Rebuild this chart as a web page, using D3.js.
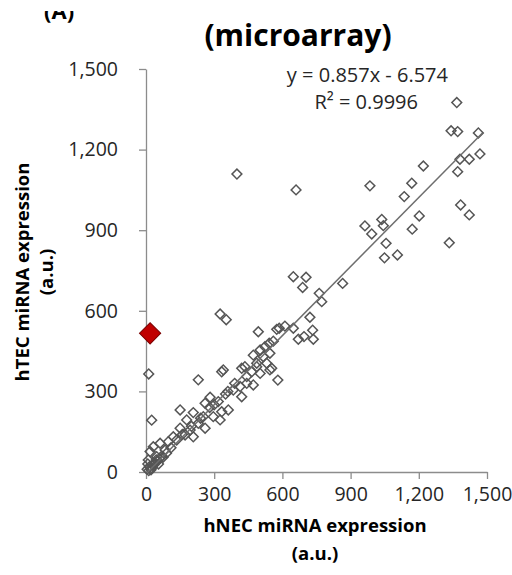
<html>
<style>
body { margin: 0; background: #fff; }
text { font-family: "Open Sans", sans-serif; }
</style>
<body>
<script src="https://d3js.org/d3.v7.min.js"></script>
<script>

var width = 512,
    height = 575;

// hNEC (x) and hTEC (y) expression, one pair per miRNA
var hnec = [1367,1342,1371,1462,1381,1422,1469,1371,1220,1169,1136,1384,1422,1202,1171,1334,
  1037,1044,1056,1106,1049,985,963,993,400,660,648,704,689,865,762,773,721,733,736,648,670,
  695,611,586,575,494,560,542,523,502,472,516,545,487,531,435,465,502,545,443,580,472,326,353,
  340,421,487,553,230,333,12,25,150,282,260,318,208,333,362,384,414,421,443,179,230,252,296,
  194,150,120,98,62,32,84,135,172,208,260,326,18,47,10,5,15,22,30,40,8,12,25,35,50,60,70,55,
  45,360,390,350,300,280,240,200,160,110,90,75];
var htec = [1375,1270,1267,1262,1164,1164,1184,1118,1139,1075,1025,994,957,953,904,853,
  940,917,851,808,797,1065,916,886,1109,1050,727,725,687,702,665,634,576,528,494,535,494,
  504,543,535,531,522,487,479,466,454,435,429,442,405,405,392,373,367,380,355,342,324,588,567,
  380,386,392,386,343,373,365,193,231,278,256,262,221,224,231,305,318,280,330,194,181,206,206,
  156,163,131,113,107,94,82,119,138,131,163,194,76,57,45,10,20,8,25,35,30,5,15,28,40,50,60,30,
  45,300,330,290,250,240,200,170,140,90,70,55];

// highlighted miRNA
var highlight = [18, 516];

var ticks = [0, 300, 600, 900, 1200, 1500];
var slope = 0.857, intercept = -6.574;
var fitRange = [8, 1480];
var eqLines = ["y = 0.857x - 6.574", "R² = 0.9996"];

var x = d3.scaleLinear().domain([0, 1500]).range([146, 487]);
var y = d3.scaleLinear().domain([0, 1500]).range([472, 69]);

var svg = d3.select("body").append("svg")
    .attr("width", width)
    .attr("height", height);

var fmt = d3.format(",d");

// axes
var gx = svg.append("g")
    .attr("transform", "translate(0," + y(0) + ")")
    .call(d3.axisBottom(x).tickValues(ticks).tickFormat(fmt).tickSize(7).tickPadding(8).tickSizeOuter(0));
var gy = svg.append("g")
    .attr("transform", "translate(" + x(0) + ",0)")
    .call(d3.axisLeft(y).tickValues(ticks).tickFormat(fmt).tickSize(7).tickPadding(21).tickSizeOuter(0));

[gx, gy].forEach(function(g) {
  g.select(".domain").attr("stroke", "#8c8c8c").attr("stroke-width", 1.3);
  g.selectAll(".tick line").attr("stroke", "#8c8c8c").attr("stroke-width", 1.3);
  g.selectAll(".tick text")
    .attr("fill", "#262626")
    .style("font-family", "'Open Sans', sans-serif")
    .style("font-size", "19.5px");
});

// points
var diamond = d3.symbol().type(d3.symbolSquare).size(48);
svg.append("g").selectAll("path")
    .data(d3.range(hnec.length))
    .enter().append("path")
    .attr("d", diamond)
    .attr("transform", function(i) { return "translate(" + x(hnec[i]) + "," + y(htec[i]) + ") rotate(45)"; })
    .attr("fill", "none")
    .attr("stroke", "#555")
    .attr("stroke-width", 1.5);

// trend line
svg.append("line")
    .attr("x1", x(fitRange[0])).attr("y1", y(slope * fitRange[0] + intercept))
    .attr("x2", x(fitRange[1])).attr("y2", y(slope * fitRange[1] + intercept))
    .attr("stroke", "#6e6e6e")
    .attr("stroke-width", 1.5);

svg.append("path")
    .attr("d", d3.symbol().type(d3.symbolSquare).size(225))
    .attr("transform", "translate(" + x(highlight[0]) + "," + y(highlight[1]) + ") rotate(45)")
    .attr("fill", "#c00000")
    .attr("stroke", "#7a0000")
    .attr("stroke-width", 1);

// equation
svg.append("text").attr("x", 448).attr("y", 82).attr("text-anchor", "end")
    .style("font-size", "20px").attr("fill", "#262626").text(eqLines[0]);
svg.append("text").attr("x", 418).attr("y", 109).attr("text-anchor", "end")
    .style("font-size", "20px").attr("fill", "#262626").text(eqLines[1]);

// title
svg.append("text").attr("x", 298).attr("y", 46).attr("text-anchor", "middle")
    .style("font-size", "30px").style("font-weight", "bold").text("(microarray)");

// panel letter, top cut off
svg.append("clipPath").attr("id", "cut")
  .append("rect").attr("x", 0).attr("y", 11).attr("width", 120).attr("height", 20);
svg.append("text").attr("x", 44).attr("y", 19).attr("clip-path", "url(#cut)")
    .style("font-size", "22px").style("font-weight", "bold").text("(A)");

// axis titles
svg.append("text").attr("x", 315).attr("y", 532).attr("text-anchor", "middle")
    .style("font-size", "18.5px").style("font-weight", "bold").text("hNEC miRNA expression");
svg.append("text").attr("x", 315).attr("y", 560).attr("text-anchor", "middle")
    .style("font-size", "18.5px").style("font-weight", "bold").text("(a.u.)");

svg.append("text").attr("transform", "translate(29,272) rotate(-90)").attr("text-anchor", "middle")
    .style("font-size", "18.5px").style("font-weight", "bold").text("hTEC miRNA expression");
svg.append("text").attr("transform", "translate(53,272) rotate(-90)").attr("text-anchor", "middle")
    .style("font-size", "18.5px").style("font-weight", "bold").text("(a.u.)");

</script>
</body>
</html>
